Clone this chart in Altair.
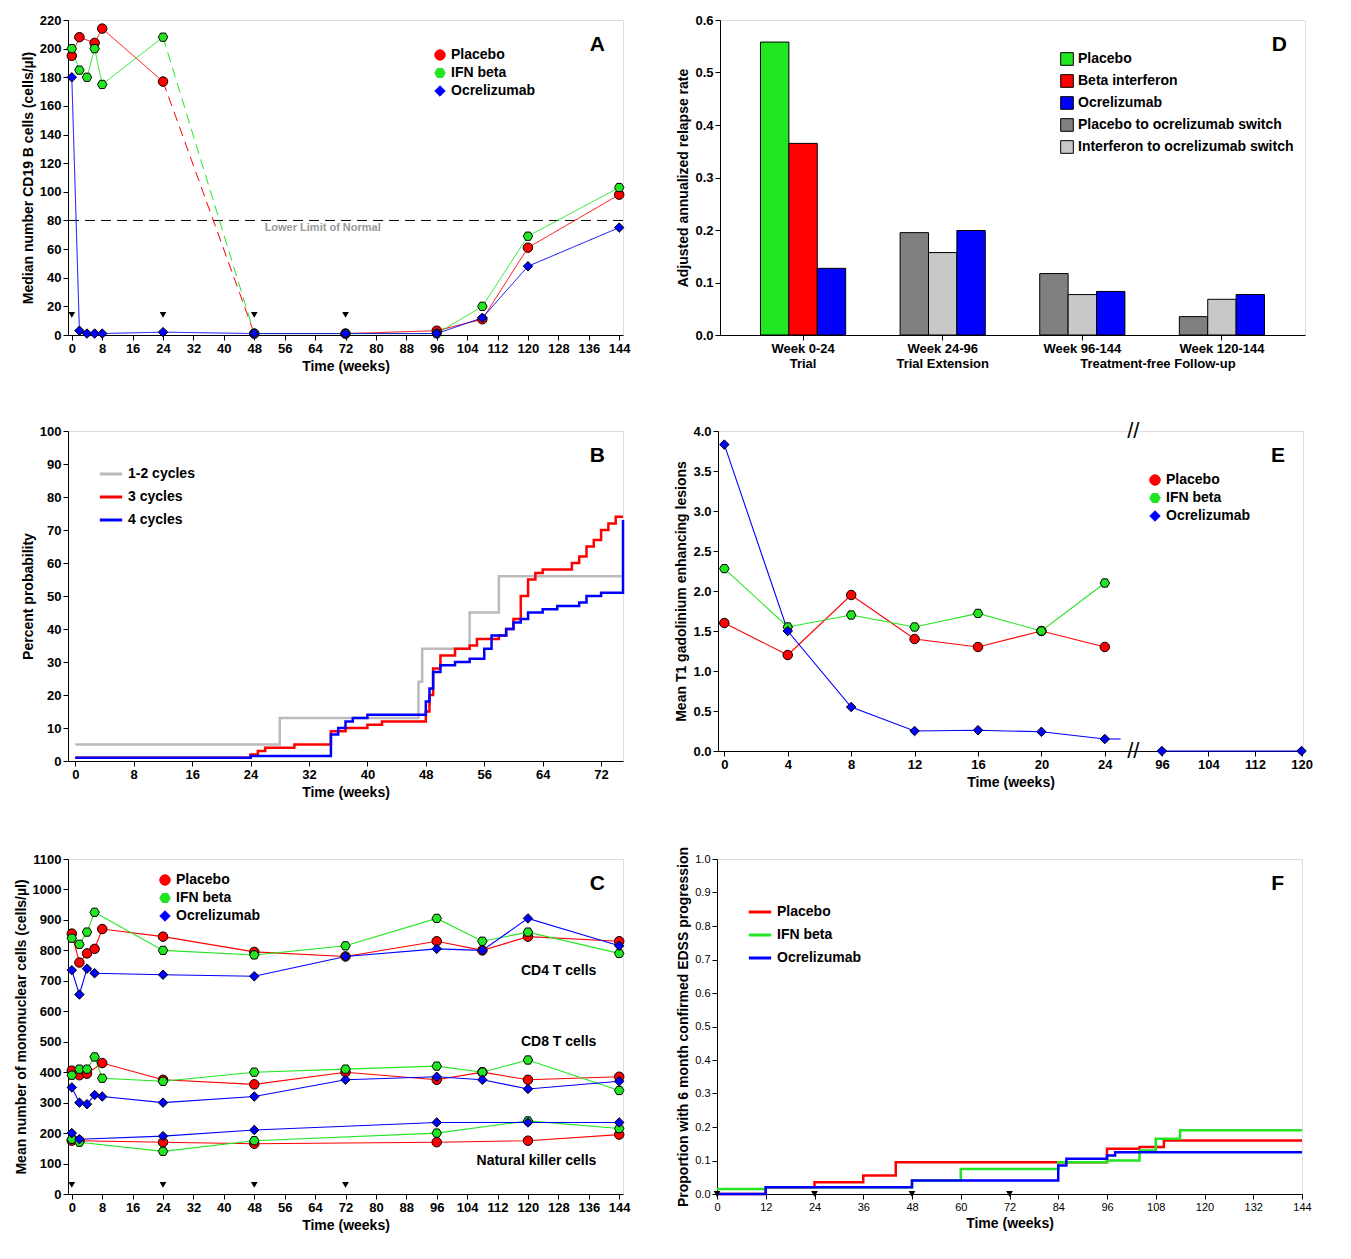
import altair as alt
import pandas as pd

FONT = "Liberation Sans"
# ---------------- Panel A data ----------------
A_weeks_pl = [0, 2, 6, 8, 24, 48, 72, 96, 108, 120, 144]
A_pl = [195, 208, 204, 214, 177, 1, 1, 3, 11, 61, 98]
A_weeks_ifn = [0, 2, 4, 6, 8, 24, 48, 72, 96, 108, 120, 144]
A_ifn = [200, 185, 180, 200, 175, 208, 1, 1, 1, 20, 69, 103]
A_weeks_oc = [0, 2, 4, 6, 8, 24, 48, 72, 96, 108, 120, 144]
A_oc = [180, 3, 1, 1, 1, 2, 1, 1, 1, 12, 48, 75]
TRI_WEEKS = [0, 24, 48, 72]
LLN = 80

# ---------------- Panel B data ----------------
B_12_x = [0, 28, 47, 47.5, 54, 58, 75]
B_12_y = [5, 13, 24, 34, 45, 56, 56]
B_3_x = [0, 24, 25, 26, 30, 35, 37, 40, 42, 48, 48.5, 49, 50, 52, 54, 55, 58, 59, 60, 61, 62, 63, 64, 68, 69, 70, 71, 72, 73, 74, 75]
B_3_y = [1, 2, 3, 4, 5, 9, 10, 11, 12, 15, 20, 28, 32, 34, 35, 37, 38, 40, 43, 50, 55, 57, 58, 60, 62, 65, 67, 70, 72, 74, 74]
B_4_x = [0, 24, 35, 36, 37, 38, 40, 48, 48.5, 49, 50, 52, 54, 56, 57, 59, 60, 61, 62, 64, 66, 69, 70, 72, 74.7, 75]
B_4_y = [1, 1.5, 8, 10, 12, 13, 14, 18, 22, 27, 29, 30, 31, 34, 38, 40, 42, 43, 45, 46, 47, 48, 50, 51, 51, 73]

# ---------------- Panel C data ----------------
C_w = [0, 2, 4, 6, 8, 24, 48, 72, 96, 108, 120, 144]
C4_pl = [855, 760, 790, 805, 870, 845, 795, 780, 830, 800, 845, 830]
C4_ifn = [840, 820, 860, 925, None, 800, 785, 815, 905, 830, 860, 790]
C4_oc = [735, 655, 740, 725, None, 720, 715, 780, 805, 800, 905, 815]
C8_pl = [405, 390, 395, None, 430, 375, 360, 400, 375, 400, 375, 385]
C8_ifn = [390, 410, 410, 450, 380, 370, 400, 410, 420, 400, 440, 340]
C8_oc = [350, 300, 295, 325, 320, 300, 320, 375, 385, 375, 345, 370]
CNK_w = [0, 2, 24, 48, 96, 120, 144]
CNK_pl = [175, 175, 170, 165, 170, 175, 195]
CNK_ifn = [180, 170, 140, 175, 200, 240, 215]
CNK_oc = [200, 180, 190, 210, 235, 235, 235]

# ---------------- Panel D data ----------------
D_groups = ["Week 0-24|Trial", "Week 24-96|Trial Extension", "Week 96-144| ", "Week 120-144| "]
D_series = ["Placebo", "Beta interferon", "Ocrelizumab", "Placebo to ocrelizumab switch", "Interferon to ocrelizumab switch"]
D_rows = [
    (D_groups[0], "Placebo", 0.558), (D_groups[0], "Beta interferon", 0.365), (D_groups[0], "Ocrelizumab", 0.127),
    (D_groups[1], "Placebo to ocrelizumab switch", 0.195), (D_groups[1], "Interferon to ocrelizumab switch", 0.157), (D_groups[1], "Ocrelizumab", 0.199),
    (D_groups[2], "Placebo to ocrelizumab switch", 0.117), (D_groups[2], "Interferon to ocrelizumab switch", 0.077), (D_groups[2], "Ocrelizumab", 0.083),
    (D_groups[3], "Placebo to ocrelizumab switch", 0.035), (D_groups[3], "Interferon to ocrelizumab switch", 0.068), (D_groups[3], "Ocrelizumab", 0.077),
]

# ---------------- Panel E data ----------------
E_w = [0, 4, 8, 12, 16, 20, 24]
E_pl = [1.6, 1.2, 1.95, 1.4, 1.3, 1.5, 1.3]
E_ifn = [2.28, 1.55, 1.7, 1.55, 1.72, 1.5, 2.1]
E_oc = [3.83, 1.5, 0.55, 0.25, 0.26, 0.24, 0.15]
E_late_w = [96, 120]
E_late_oc = [0, 0]

# ---------------- Panel F data ----------------
F_pl_x = [0, 12, 24, 36, 44, 96, 104, 110, 144]
F_pl_y = [0, 0.02, 0.035, 0.055, 0.095, 0.135, 0.14, 0.16, 0.16]
F_ifn_x = [0, 12, 48, 60, 84, 96, 104, 108, 114, 144]
F_ifn_y = [0.015, 0.02, 0.04, 0.075, 0.095, 0.1, 0.13, 0.165, 0.19, 0.19]
F_oc_x = [0, 12, 48, 84, 86, 96, 98, 144]
F_oc_y = [0, 0.02, 0.04, 0.085, 0.105, 0.115, 0.125, 0.125]

RED, GREEN, BLUE = "#ff0000", "#22e622", "#0000ff"
TRT = ["Placebo", "IFN beta", "Ocrelizumab"]
trt_color = alt.Scale(domain=TRT, range=[RED, GREEN, BLUE])
trt_shape = alt.Scale(domain=TRT, range=["circle", "M-1,0L-0.5,-0.87L0.5,-0.87L1,0L0.5,0.87L-0.5,0.87Z", "diamond"])

def ax(title, values=None, fmt=None, expr=None, size=13, bold=True):
    kw = dict(title=title, grid=False, tickSize=5, ticks=True, labelFont=FONT, titleFont=FONT,
              labelFontWeight="bold" if bold else "normal", titleFontWeight="bold", labelFontSize=size, titleFontSize=14,
              labelColor="black", titleColor="black", domainColor="black", tickColor="black",
              labelOverlap=False, labelAngle=0, labelFlush=False)
    if values is not None:
        kw["values"] = values
    if fmt:
        kw["format"] = fmt
    if expr:
        kw["labelExpr"] = expr
    return alt.Axis(**kw)

def leg(x, y, symbol=None):
    kw = dict(title=None, orient="none", legendX=x, legendY=y, labelFont=FONT, labelFontWeight="bold",
              labelFontSize=14, labelColor="black", symbolSize=110, rowPadding=3,
              symbolStrokeColor="black", symbolStrokeWidth=1)
    if symbol:
        kw["symbolType"] = symbol
        kw["symbolStrokeWidth"] = 3
        kw["symbolSize"] = 500
        del kw["symbolStrokeColor"]
    return alt.Legend(**kw)

def letter(ch, w):
    return alt.Chart(pd.DataFrame({"t": [ch]})).mark_text(font=FONT, fontWeight="bold", fontSize=21, align="right", baseline="top").encode(
        text="t:N", x=alt.value(w - 18), y=alt.value(14))

def tri(xs, yval, X, Y, xf="w", yf="v"):
    return alt.Chart(pd.DataFrame({xf: xs, yf: [yval] * len(xs)})).mark_point(
        shape="triangle-down", filled=True, color="black", size=45, opacity=1).encode(x=X, y=Y)

def line_pts(df, X, Y, lx, ly, extra_line_df=None):
    L = leg(lx, ly)
    line = alt.Chart(df if extra_line_df is None else pd.concat([df, extra_line_df])).mark_line(strokeWidth=1.1).encode(
        x=X, y=Y, detail="seg:N", color=alt.Color("trt:N", scale=trt_color, legend=L))
    pts = alt.Chart(df).mark_point(filled=True, size=90, stroke="black", strokeWidth=1, opacity=1).encode(
        x=X, y=Y, color=alt.Color("trt:N", scale=trt_color, legend=L),
        shape=alt.Shape("trt:N", scale=trt_shape, legend=L))
    return line, pts

# ---------------- Panel A ----------------
WL, HA = 555, 315
rows = []
def add_series(ws, vs, name, dashed=False):
    for w, v in zip(ws, vs):
        if not dashed:
            rows.append(dict(w=w, v=v, trt=name, seg=name, dash="solid"))
        elif w <= 24:
            rows.append(dict(w=w, v=v, trt=name, seg=name + "s0", dash="solid"))
        else:
            rows.append(dict(w=w, v=v, trt=name, seg=name + "s2", dash="solid"))
    if dashed:
        i = ws.index(24)
        rows.append(dict(w=24, v=vs[i], trt=name, seg=name + "d", dash="dashed"))
        rows.append(dict(w=48, v=vs[i + 1], trt=name, seg=name + "d", dash="dashed"))
add_series(A_weeks_pl, A_pl, "Placebo", True)
add_series(A_weeks_ifn, A_ifn, "IFN beta", True)
add_series(A_weeks_oc, A_oc, "Ocrelizumab")
dfA = pd.DataFrame(rows)
xA = alt.Scale(domain=[-1, 145], nice=False)
yA = alt.Scale(domain=[0, 220], nice=False)
XA = alt.X("w:Q", scale=xA, axis=ax("Time (weeks)", list(range(0, 145, 8))))
YA = alt.Y("v:Q", scale=yA, axis=ax("Median number CD19 B cells (cells/µl)", list(range(0, 221, 20))))
LA = leg(365, 28)
lineA = alt.Chart(dfA).mark_line(strokeWidth=1).encode(
    x=XA, y=YA, detail="seg:N",
    color=alt.Color("trt:N", scale=trt_color, legend=LA),
    strokeDash=alt.StrokeDash("dash:N", scale=alt.Scale(domain=["solid", "dashed"], range=[[1, 0], [10, 6]]), legend=None))
ptA = alt.Chart(dfA[dfA.dash == "solid"]).mark_point(filled=True, size=90, stroke="black", strokeWidth=1, opacity=1).encode(
    x=XA, y=YA,
    color=alt.Color("trt:N", scale=trt_color, legend=LA),
    shape=alt.Shape("trt:N", scale=trt_shape, legend=LA))
llnA = alt.Chart(pd.DataFrame({"v": [LLN]})).mark_rule(strokeDash=[10, 6], color="black").encode(y=YA)
llnT = alt.Chart(pd.DataFrame({"w": [66], "v": [LLN], "t": ["Lower Limit of Normal"]})).mark_text(
    font=FONT, fontWeight="bold", fontSize=11, color="#999999", baseline="top", dy=2).encode(x=XA, y=YA, text="t:N")
panelA = alt.layer(llnA, llnT, lineA, ptA, tri(TRI_WEEKS, 14, XA, YA), letter("A", WL)).properties(width=WL, height=HA)

# ---------------- Panel D ----------------
WR, HD = 585, 315
dfD = pd.DataFrame(D_rows, columns=["g", "s", "v"])
dcol = alt.Scale(domain=D_series, range=["#22e622", "#ff0000", "#0000ff", "#808080", "#c8c8c8"])
order_map = {"Placebo": 0, "Beta interferon": 1, "Placebo to ocrelizumab switch": 0, "Interferon to ocrelizumab switch": 1, "Ocrelizumab": 2}
dfD["o"] = dfD.s.map(order_map)
xD = alt.Scale(domain=D_groups, paddingInner=0.39, paddingOuter=0.29)
XD = alt.X("g:N", scale=xD, sort=D_groups, axis=ax(None, expr="split(datum.label, '|')"))
barsD = alt.Chart(dfD).mark_bar(stroke="black", strokeWidth=1).encode(
    x=XD, xOffset=alt.XOffset("o:O"),
    y=alt.Y("v:Q", scale=alt.Scale(domain=[0, 0.6], nice=False), axis=ax("Adjusted annualized  relapse rate", [0, .1, .2, .3, .4, .5, .6], ".1f")),
    color=alt.Color("s:N", scale=dcol, legend=alt.Legend(title=None, orient="none", legendX=340, legendY=32, labelFont=FONT,
                    labelFontWeight="bold", labelFontSize=14, labelColor="black", symbolType="square",
                    symbolStrokeColor="black", symbolStrokeWidth=1, symbolSize=160, rowPadding=4, labelLimit=400)))
tfD = alt.Chart(pd.DataFrame({"g": [D_groups[3]], "t": ["Treatment-free Follow-up"]})).mark_text(
    font=FONT, fontWeight="bold", fontSize=13, baseline="top", dx=-64).encode(
    x=XD, y=alt.value(HD + 23), text="t:N")
panelD = alt.layer(barsD, tfD, letter("D", WR)).properties(width=WR, height=HD)

# ---------------- Panel B ----------------
HB = 330
rb = []
for name, xs, ys in [("1-2 cycles", B_12_x, B_12_y), ("3 cycles", B_3_x, B_3_y), ("4 cycles", B_4_x, B_4_y)]:
    for x, y in zip(xs, ys):
        rb.append(dict(x=x, y=y, s=name))
dfB = pd.DataFrame(rb)
panelB = alt.layer(
    alt.Chart(dfB).mark_line(interpolate="step-after", strokeWidth=2.5).encode(
        x=alt.X("x:Q", scale=alt.Scale(domain=[-1, 75], nice=False), axis=ax("Time (weeks)", list(range(0, 73, 8)))),
        y=alt.Y("y:Q", scale=alt.Scale(domain=[0, 100], nice=False), axis=ax("Percent probability", list(range(0, 101, 10)))),
        color=alt.Color("s:N", scale=alt.Scale(domain=["1-2 cycles", "3 cycles", "4 cycles"], range=["#bbbbbb", RED, BLUE]),
                        legend=leg(30, 30, "stroke"))),
    letter("B", WL)).properties(width=WL, height=HB)

# ---------------- Panel E ----------------
HE = 320
def ep(t):
    return t if t <= 24 else 27.6 + (t - 96) * 0.367
re = []
for name, vs in [("Placebo", E_pl), ("IFN beta", E_ifn), ("Ocrelizumab", E_oc)]:
    for w, v in zip(E_w, vs):
        re.append(dict(p=ep(w), v=v, trt=name, seg=name))
for w, v in zip(E_late_w, E_late_oc):
    re.append(dict(p=ep(w), v=v, trt="Ocrelizumab", seg="late"))
dfE = pd.DataFrame(re)
tail = pd.DataFrame([dict(p=24, v=E_oc[-1], trt="Ocrelizumab", seg="tail"), dict(p=25, v=E_oc[-1], trt="Ocrelizumab", seg="tail")])
xE = alt.Scale(domain=[-0.4, 36.5], nice=False)
yE = alt.Scale(domain=[0, 4], nice=False)
tickE = [0, 4, 8, 12, 16, 20, 24] + [ep(t) for t in [96, 104, 112, 120]]
XE = alt.X("p:Q", scale=xE, axis=ax("Time (weeks)", tickE, expr="datum.value <= 24 ? datum.value : round(96 + (datum.value - 27.6) / 0.367)"))
YE = alt.Y("v:Q", scale=yE, axis=ax("Mean T1 gadolinium enhancing lesions", [0, .5, 1, 1.5, 2, 2.5, 3, 3.5, 4], ".1f"))
lineE, ptE = line_pts(dfE, XE, YE, 430, 42, tail)
brk = alt.Chart(pd.DataFrame({"p": [25.8, 25.8], "v": [0, 4], "t": ["//", "//"]})).mark_text(
    fontSize=22, font=FONT, color="black").encode(x=XE, y=YE, text="t:N")
panelE = alt.layer(lineE, ptE, brk, letter("E", WR)).properties(width=WR, height=HE)

# ---------------- Panel C ----------------
HC = 335
rc = []
for grp, ws, series in [("cd4", C_w, [C4_pl, C4_ifn, C4_oc]), ("cd8", C_w, [C8_pl, C8_ifn, C8_oc]), ("nk", CNK_w, [CNK_pl, CNK_ifn, CNK_oc])]:
    for name, vs in zip(TRT, series):
        for w, v in zip(ws, vs):
            if v is not None:
                rc.append(dict(w=w, v=v, trt=name, seg=grp + name))
dfC = pd.DataFrame(rc)
xC = alt.Scale(domain=[-1, 145], nice=False)
yC = alt.Scale(domain=[0, 1100], nice=False)
XC = alt.X("w:Q", scale=xC, axis=ax("Time (weeks)", list(range(0, 145, 8))))
YC = alt.Y("v:Q", scale=yC, axis=ax("Mean number of mononuclear cells (cells/µl)", list(range(0, 1101, 100)), "d"))
lineC, ptC = line_pts(dfC, XC, YC, 90, 14)
lblC = alt.Chart(pd.DataFrame({"w": [138, 138, 138], "v": [710, 475, 85],
                               "t": ["CD4 T cells", "CD8 T cells", "Natural killer cells"]})).mark_text(
    font=FONT, fontWeight="bold", fontSize=14, align="right", baseline="bottom").encode(x=XC, y=YC, text="t:N")
panelC = alt.layer(lineC, ptC, lblC, tri(TRI_WEEKS, 30, XC, YC), letter("C", WL)).properties(width=WL, height=HC)

# ---------------- Panel F ----------------
HF = 335
rf = []
for name, xs, ys in [("Placebo", F_pl_x, F_pl_y), ("IFN beta", F_ifn_x, F_ifn_y), ("Ocrelizumab", F_oc_x, F_oc_y)]:
    for x, y in zip(xs, ys):
        rf.append(dict(x=x, y=y, trt=name))
dfF = pd.DataFrame(rf)
xF = alt.Scale(domain=[0, 144], nice=False)
yF = alt.Scale(domain=[0, 1], nice=False)
XF = alt.X("x:Q", scale=xF, axis=ax("Time (weeks)", list(range(0, 145, 12)), size=11, bold=False))
YF = alt.Y("y:Q", scale=yF, axis=ax("Proportion with 6 month confirmed EDSS progression", [i / 10 for i in range(11)], ".1f", size=11, bold=False))
panelF = alt.layer(
    alt.Chart(dfF).mark_line(interpolate="step-after", strokeWidth=2.5).encode(
        x=XF, y=YF, color=alt.Color("trt:N", scale=trt_color, legend=leg(30, 40, "stroke"))),
    tri(TRI_WEEKS, 0, XF, YF, "x", "y"),
    letter("F", WR)).properties(width=WR, height=HF)

res = dict(color="independent", fill="independent", shape="independent")
row1 = alt.hconcat(panelA, panelD, spacing=45).resolve_scale(**res)
row2 = alt.hconcat(panelB, panelE, spacing=45).resolve_scale(**res)
row3 = alt.hconcat(panelC, panelF, spacing=45).resolve_scale(**res)
chart = alt.vconcat(row1, row2, row3, spacing=45).resolve_scale(**res).configure_view(
    stroke="black", strokeWidth=1.5).configure(background="white", padding=5)
chart.save("out.html", embed_options={"renderer": "svg", "actions": False})
